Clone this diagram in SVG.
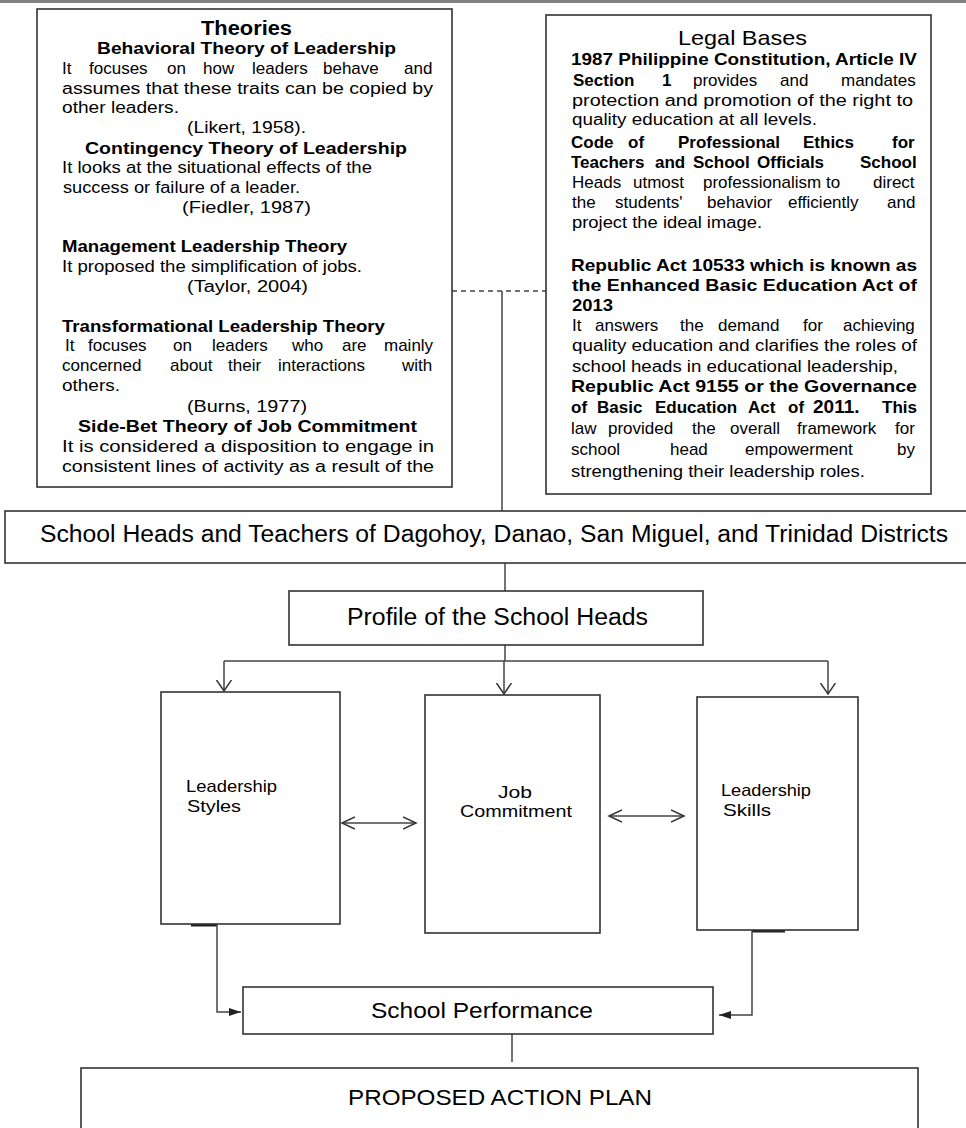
<svg xmlns="http://www.w3.org/2000/svg" width="966" height="1128" viewBox="0 0 966 1128">
<style>
text{font-family:"Liberation Sans",Arial,sans-serif;fill:#000}
.t{font-size:16px}
.tw{font-size:17px}
.b{font-size:17px;font-weight:bold}
.h{font-size:20px;font-weight:bold}
.hn{font-size:21px}
.m{font-size:23px}
.s{font-size:16.5px}
.box{fill:#fff;stroke:#333;stroke-width:1.6}
.ln{fill:none;stroke:#444;stroke-width:1.5}
.tab{stroke:#222;stroke-width:3}
</style>
<defs>
<marker id="vopen" markerUnits="userSpaceOnUse" markerWidth="14" markerHeight="18" refX="11" refY="8" orient="auto"><path d="M0,0.5 L11,8 L0,15.5" fill="none" stroke="#333" stroke-width="1.5"/></marker>
<marker id="dopen" markerUnits="userSpaceOnUse" markerWidth="16" markerHeight="16" refX="13" refY="7" orient="auto-start-reverse"><path d="M0,1 L13,7 L0,13" fill="none" stroke="#333" stroke-width="1.5"/></marker>
<marker id="fill" markerUnits="userSpaceOnUse" markerWidth="13" markerHeight="10" refX="12" refY="4" orient="auto"><path d="M0,0 L12,4 L0,8 z" fill="#222"/></marker>
</defs>
<rect x="0" y="0" width="966" height="3" fill="#808080"/>

<g id="connectors">
<line class="ln" x1="452" y1="291" x2="546" y2="291" stroke-dasharray="5,4"/>
<line class="ln" x1="502" y1="291" x2="502" y2="511"/>
<line class="ln" x1="505" y1="563" x2="505" y2="591"/>
<line class="ln" x1="505" y1="645" x2="505" y2="661"/>
<line class="ln" x1="224" y1="661" x2="828" y2="661"/>
<line class="ln" x1="224" y1="661" x2="224" y2="691" marker-end="url(#vopen)"/>
<line class="ln" x1="504" y1="661" x2="504" y2="694" marker-end="url(#vopen)"/>
<line class="ln" x1="828" y1="661" x2="828" y2="694" marker-end="url(#vopen)"/>
<line class="ln" x1="342" y1="823" x2="416" y2="823" marker-start="url(#dopen)" marker-end="url(#dopen)"/>
<line class="ln" x1="609" y1="816" x2="684" y2="816" marker-start="url(#dopen)" marker-end="url(#dopen)"/>
<line class="tab" x1="191" y1="925" x2="217" y2="925"/>
<polyline class="ln" points="217,925 217,1012 241,1012" marker-end="url(#fill)"/>
<line class="tab" x1="752" y1="931" x2="785" y2="931"/>
<polyline class="ln" points="752,931 752,1015 719,1015" marker-end="url(#fill)"/>
<line class="ln" x1="512" y1="1034" x2="512" y2="1062"/>
</g>

<g id="theories">
<rect class="box" x="37" y="9" width="415" height="478"/>
<text class="h" x="201" y="35" textLength="91" lengthAdjust="spacingAndGlyphs">Theories</text>
<text class="b" x="97" y="54" textLength="299" lengthAdjust="spacingAndGlyphs">Behavioral Theory of Leadership</text>
<text class="tw" y="74"><tspan x="62">It</tspan><tspan x="89">focuses</tspan><tspan x="167">on</tspan><tspan x="203">how</tspan><tspan x="252">leaders</tspan><tspan x="323">behave</tspan><tspan x="404">and</tspan></text>
<text class="t" x="62" y="94" textLength="371" lengthAdjust="spacingAndGlyphs">assumes that these traits can be copied by</text>
<text class="t" x="62" y="113" textLength="117" lengthAdjust="spacingAndGlyphs">other leaders.</text>
<text class="t" x="187" y="133" textLength="119" lengthAdjust="spacingAndGlyphs">(Likert, 1958).</text>
<text class="b" x="85" y="154" textLength="322" lengthAdjust="spacingAndGlyphs">Contingency Theory of Leadership</text>
<text class="t" x="62" y="173" textLength="310" lengthAdjust="spacingAndGlyphs">It looks at the situational effects of the</text>
<text class="t" x="63" y="193" textLength="237" lengthAdjust="spacingAndGlyphs">success or failure of a leader.</text>
<text class="t" x="182" y="213" textLength="129" lengthAdjust="spacingAndGlyphs">(Fiedler, 1987)</text>
<text class="b" x="62" y="252" textLength="285" lengthAdjust="spacingAndGlyphs">Management Leadership Theory</text>
<text class="t" x="62" y="272" textLength="300" lengthAdjust="spacingAndGlyphs">It proposed the simplification of jobs.</text>
<text class="t" x="187" y="292" textLength="121" lengthAdjust="spacingAndGlyphs">(Taylor, 2004)</text>
<text class="b" x="62" y="332" textLength="323" lengthAdjust="spacingAndGlyphs">Transformational Leadership Theory</text>
<text class="tw" y="351"><tspan x="65">It</tspan><tspan x="88">focuses</tspan><tspan x="173">on</tspan><tspan x="212">leaders</tspan><tspan x="292">who</tspan><tspan x="342">are</tspan><tspan x="384">mainly</tspan></text>
<text class="tw" y="371"><tspan x="62">concerned</tspan><tspan x="170">about</tspan><tspan x="228">their</tspan><tspan x="278">interactions</tspan><tspan x="402">with</tspan></text>
<text class="t" x="62" y="391" textLength="58" lengthAdjust="spacingAndGlyphs">others.</text>
<text class="t" x="187" y="412" textLength="120" lengthAdjust="spacingAndGlyphs">(Burns, 1977)</text>
<text class="b" x="78" y="432" textLength="339" lengthAdjust="spacingAndGlyphs">Side-Bet Theory of Job Commitment</text>
<text class="t" x="62" y="452" textLength="372" lengthAdjust="spacingAndGlyphs">It is considered a disposition to engage in</text>
<text class="t" x="62" y="472" textLength="372" lengthAdjust="spacingAndGlyphs">consistent lines of activity as a result of the</text>
</g>

<g id="legal-bases">
<rect class="box" x="546" y="15" width="385" height="479"/>
<text class="hn" x="678" y="45" textLength="129" lengthAdjust="spacingAndGlyphs">Legal Bases</text>
<text class="b" x="571" y="65" textLength="346" lengthAdjust="spacingAndGlyphs">1987 Philippine Constitution, Article IV</text>
<text class="tw" y="86"><tspan class="b" x="573">Section</tspan><tspan class="b" x="662">1</tspan><tspan x="693">provides</tspan><tspan x="780">and</tspan><tspan x="841">mandates</tspan></text>
<text class="t" x="572" y="106" textLength="341" lengthAdjust="spacingAndGlyphs">protection and promotion of the right to</text>
<text class="t" x="572" y="125" textLength="245" lengthAdjust="spacingAndGlyphs">quality education at all levels.</text>
<text class="b" y="148"><tspan x="571">Code</tspan><tspan x="628">of</tspan><tspan x="678">Professional</tspan><tspan x="803">Ethics</tspan><tspan x="892">for</tspan></text>
<text class="b" y="168"><tspan x="571">Teachers</tspan><tspan x="655">and</tspan><tspan x="693">School</tspan><tspan x="757">Officials</tspan><tspan class="tw" x="860">School</tspan></text>
<text class="tw" y="188"><tspan x="572">Heads</tspan><tspan x="633">utmost</tspan><tspan x="703">professionalism</tspan><tspan x="826">to</tspan><tspan x="873">direct</tspan></text>
<text class="tw" y="208"><tspan x="572">the</tspan><tspan x="615">students'</tspan><tspan x="707">behavior</tspan><tspan x="788">efficiently</tspan><tspan x="887">and</tspan></text>
<text class="t" x="572" y="228" textLength="190" lengthAdjust="spacingAndGlyphs">project the ideal image.</text>
<text class="b" x="571" y="271" textLength="346" lengthAdjust="spacingAndGlyphs">Republic Act 10533 which is known as</text>
<text class="b" x="572" y="291" textLength="345" lengthAdjust="spacingAndGlyphs">the Enhanced Basic Education Act of</text>
<text class="b" x="572" y="311" textLength="41" lengthAdjust="spacingAndGlyphs">2013</text>
<text class="tw" y="331"><tspan x="572">It</tspan><tspan x="595">answers</tspan><tspan x="680">the</tspan><tspan x="718">demand</tspan><tspan x="803">for</tspan><tspan x="843">achieving</tspan></text>
<text class="t" x="572" y="351" textLength="345" lengthAdjust="spacingAndGlyphs">quality education and clarifies the roles of</text>
<text class="t" x="572" y="372" textLength="326" lengthAdjust="spacingAndGlyphs">school heads in educational leadership,</text>
<text class="b" x="571" y="392" textLength="346" lengthAdjust="spacingAndGlyphs">Republic Act 9155 or the Governance</text>
<text class="b" y="413"><tspan x="571">of</tspan><tspan x="597">Basic</tspan><tspan x="655">Education</tspan><tspan x="748">Act</tspan><tspan x="788">of</tspan><tspan x="813" style="font-size:19px">2011.</tspan><tspan class="tw" x="882">This</tspan></text>
<text class="tw" y="434"><tspan x="571">law</tspan><tspan x="608">provided</tspan><tspan x="692">the</tspan><tspan x="730">overall</tspan><tspan x="797">framework</tspan><tspan x="895">for</tspan></text>
<text class="tw" y="455"><tspan x="571">school</tspan><tspan x="670">head</tspan><tspan x="745">empowerment</tspan><tspan x="897">by</tspan></text>
<text class="t" x="571" y="477" textLength="294" lengthAdjust="spacingAndGlyphs">strengthening their leadership roles.</text>
</g>

<g id="respondents">
<rect class="box" x="5" y="511" width="975" height="52"/>
<text class="m" x="40" y="542" textLength="908" lengthAdjust="spacingAndGlyphs">School Heads and Teachers of Dagohoy, Danao, San Miguel, and Trinidad Districts</text>
</g>

<g id="profile">
<rect class="box" x="289" y="591" width="414" height="54"/>
<text class="m" x="347" y="625" textLength="301" lengthAdjust="spacingAndGlyphs">Profile of the School Heads</text>
</g>

<g id="leadership-styles">
<rect class="box" x="161" y="692" width="179" height="232"/>
<text class="s" x="186" y="792" textLength="91" lengthAdjust="spacingAndGlyphs">Leadership</text>
<text class="s" x="187" y="812" textLength="54" lengthAdjust="spacingAndGlyphs">Styles</text>
</g>

<g id="job-commitment">
<rect class="box" x="425" y="695" width="175" height="238"/>
<text class="s" x="498" y="798" textLength="34" lengthAdjust="spacingAndGlyphs">Job</text>
<text class="s" x="460" y="817" textLength="112" lengthAdjust="spacingAndGlyphs">Commitment</text>
</g>

<g id="leadership-skills">
<rect class="box" x="697" y="697" width="161" height="233"/>
<text class="s" x="721" y="796" textLength="90" lengthAdjust="spacingAndGlyphs">Leadership</text>
<text class="s" x="723" y="816" textLength="48" lengthAdjust="spacingAndGlyphs">Skills</text>
</g>

<g id="school-performance">
<rect class="box" x="243" y="987" width="470" height="47"/>
<text class="m" style="font-size:22px" x="371" y="1018" textLength="222" lengthAdjust="spacingAndGlyphs">School Performance</text>
</g>

<g id="action-plan">
<rect class="box" x="81" y="1068" width="837" height="80"/>
<text class="m" style="font-size:22px" x="348" y="1105" textLength="304" lengthAdjust="spacingAndGlyphs">PROPOSED ACTION PLAN</text>
</g>
</svg>
